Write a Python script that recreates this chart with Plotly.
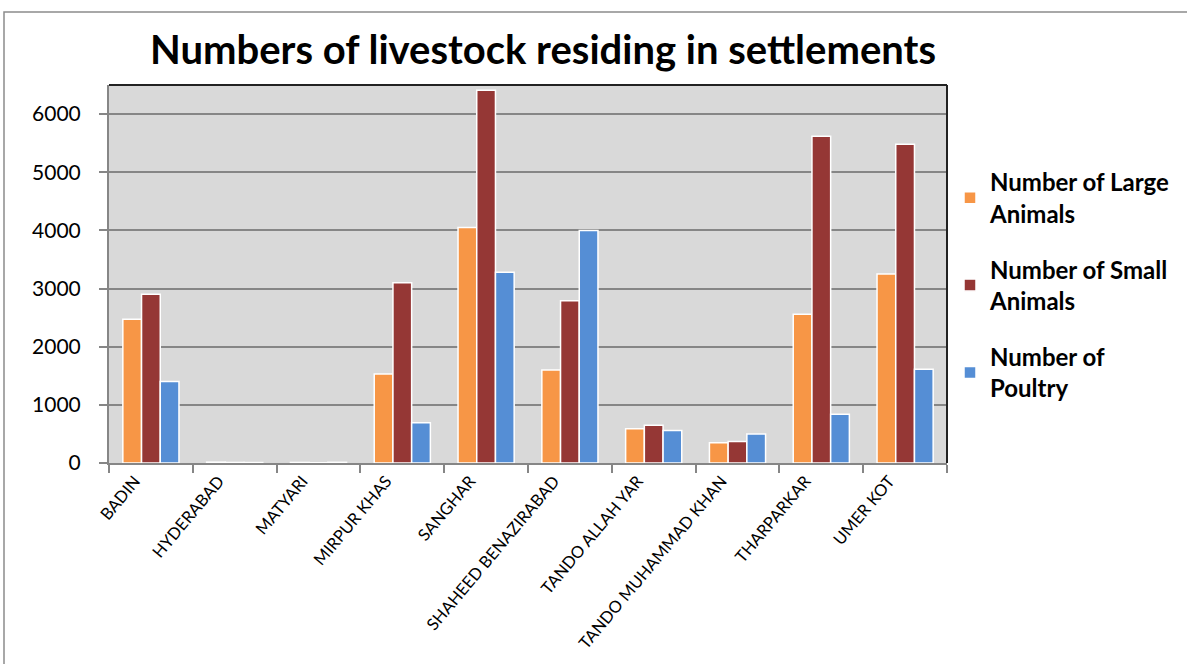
import plotly.graph_objects as go

categories = ["BADIN", "HYDERABAD", "MATYARI", "MIRPUR KHAS", "SANGHAR",
              "SHAHEED BENAZIRABAD", "TANDO ALLAH YAR", "TANDO MUHAMMAD KHAN",
              "THARPARKAR", "UMER KOT"]
large_animals = [2470, 15, 10, 1530, 4050, 1600, 590, 350, 2560, 3250]
small_animals = [2900, 10, 5, 3100, 6410, 2790, 650, 370, 5620, 5480]
poultry = [1400, 8, 12, 690, 3280, 4000, 560, 500, 840, 1610]
series_names = ["Number of Large<br>Animals", "Number of Small<br>Animals", "Number of<br>Poultry"]
colors = ["#F79646", "#953735", "#558ED5"]

L, R, T, B = 109, 240, 85, 201
W, H = 1187, 664
pw, ph = W - L - R, H - T - B

def px(x):
    return (x - L) / pw

def py(y):
    return (H - B - y) / ph

fig = go.Figure()
for i, (name, vals) in enumerate(zip(series_names, [large_animals, small_animals, poultry])):
    fig.add_trace(go.Bar(
        x=categories, y=vals, name=name,
        marker=dict(color=colors[i], line=dict(color="white", width=1.5)),
        legendgroup=str(i),
    ))

fig.update_layout(
    width=W, height=H,
    margin=dict(l=L, r=R, t=T, b=B, autoexpand=False),
    paper_bgcolor="white",
    plot_bgcolor="#D9D9D9",
    barmode="group",
    bargap=0.33,
    bargroupgap=0,
    font=dict(family="Lato, Open Sans, sans-serif", color="black"),
    title=dict(text="<b>Numbers of livestock residing in settlements</b>",
               xref="container", yref="container",
               x=543 / W, xanchor="center", y=1 - 50 / H, yanchor="middle",
               font=dict(size=40, family="Lato, sans-serif", color="black")),
    showlegend=True,
    legend=dict(x=px(950), xanchor="left", y=py(160), yanchor="top",
                font=dict(size=24, family="Lato, sans-serif", color="black", weight="bold"),
                traceorder="grouped", tracegroupgap=22, itemwidth=30,
                bgcolor="rgba(0,0,0,0)"),
    xaxis=dict(type="category", tickson="boundaries", ticks="outside", ticklen=8,
               tickcolor="#868686", tickwidth=2, automargin=False,
               ticklabelshift=-16,
               showline=True, linecolor="#868686", linewidth=2,
               tickangle=-50, tickfont=dict(size=16.5, family="Lato, sans-serif"),
               showgrid=False),
    yaxis=dict(range=[0, 6500], tickvals=[0, 1000, 2000, 3000, 4000, 5000, 6000],
               ticks="outside", ticklen=8, tickcolor="#868686", tickwidth=2,
               ticklabelstandoff=14, automargin=False,
               showline=True, linecolor="#868686", linewidth=2,
               gridcolor="#868686", gridwidth=2, zeroline=False,
               tickfont=dict(size=21, family="Lato, sans-serif")),
    shapes=[
        dict(type="line", xref="paper", yref="paper", x0=0, x1=1, y0=1, y1=1,
             line=dict(color="#222222", width=2)),
        dict(type="line", xref="paper", yref="paper", x0=1, x1=1, y0=0, y1=1,
             line=dict(color="#222222", width=2)),
        dict(type="rect", xref="paper", yref="paper", x0=px(4), x1=px(1200), y0=py(700), y1=py(12),
             line=dict(color="#8C8C8C", width=1.5), layer="below"),
    ],
)

fig.write_html("out.html")
